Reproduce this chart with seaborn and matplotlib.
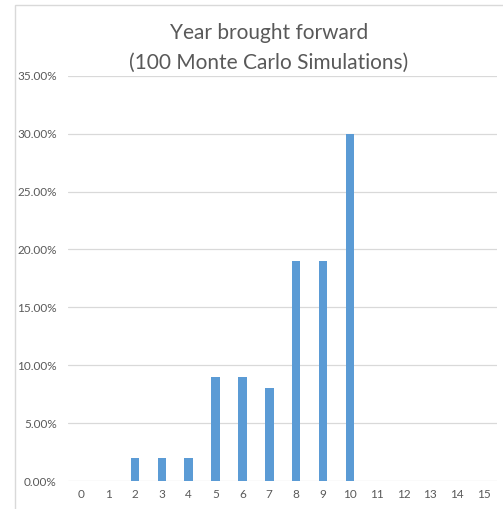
import matplotlib
matplotlib.use("Agg")
import matplotlib.pyplot as plt
import seaborn as sns
import pandas as pd
from matplotlib.patches import Rectangle

years = [str(i) for i in range(16)]
share_pct = [0, 0, 2, 2, 2, 9, 9, 8, 19, 19, 30, 0, 0, 0, 0, 0]
y_ticks = [0, 5, 10, 15, 20, 25, 30, 35]

sns.set_theme(style="white")
plt.rcParams["font.family"] = ["Lato", "DejaVu Sans"]

grey = "#595959"
df = pd.DataFrame({"year": years, "share": share_pct})

fig = plt.figure(figsize=(5.03, 5.09), dpi=100)
ax = fig.add_axes([0.135, 0.055, 0.854, 0.796])

sns.barplot(data=df, x="year", y="share", order=years, color="#5b9bd5",
            saturation=1, width=0.32, linewidth=0, ax=ax)

ax.set_xlim(-0.5, 15.5)
ax.set_ylim(0, 35)
ax.set_yticks(y_ticks)
ax.set_yticklabels([f"{t:.2f}%" for t in y_ticks])
ax.yaxis.grid(True, color="#d9d9d9", lw=0.9)
ax.set_axisbelow(True)
for s in ax.spines.values():
    s.set_visible(False)
ax.tick_params(axis="x", length=0, labelsize=8.5, labelcolor=grey, pad=6)
ax.tick_params(axis="y", length=0, labelsize=8.5, labelcolor=grey, pad=8)
ax.set_xlabel("")
ax.set_ylabel("")

fig.text(269 / 503, 1 - 33 / 509, "Year brought forward", ha="center",
         va="center", fontsize=15, color=grey)
fig.text(269 / 503, 1 - 63 / 509, "(100 Monte Carlo Simulations)",
         ha="center", va="center", fontsize=15, color=grey)

# outer chart border
fig.add_artist(Rectangle((15 / 503, -0.1), 1.2, 1.1 - 5 / 509,
                         transform=fig.transFigure, fill=False,
                         edgecolor="#d9d9d9", lw=1))

fig.savefig("out.png", dpi=100)
